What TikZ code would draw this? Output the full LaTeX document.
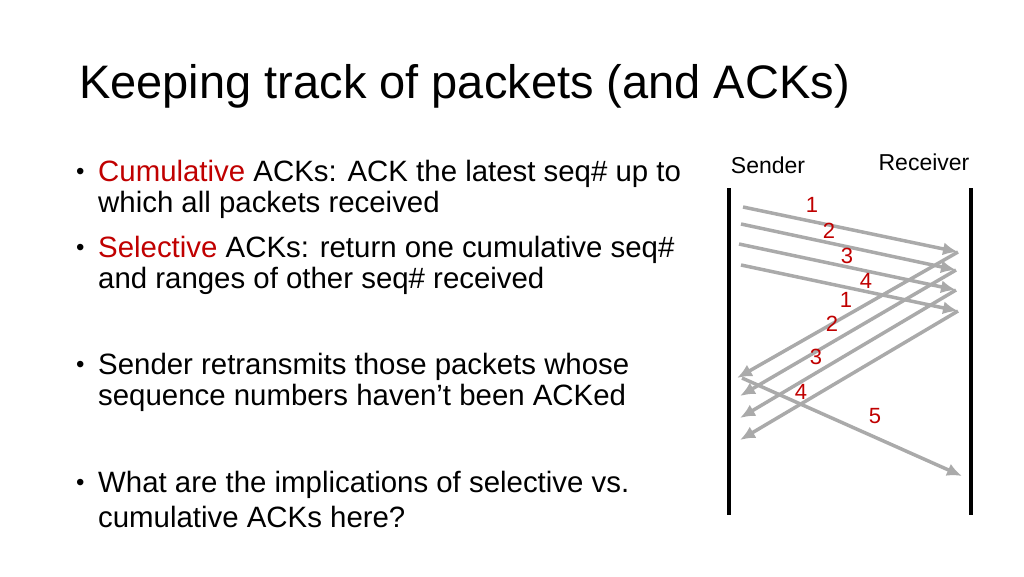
\documentclass[tikz,border=0pt]{standalone}
\usepackage{fontspec}
\setmainfont{Liberation Sans}
\usetikzlibrary{arrows.meta}
\definecolor{rd}{RGB}{192,0,0}
\definecolor{ar}{RGB}{170,170,170}
\begin{document}
\begin{tikzpicture}[x=1pt,y=-1pt,
  txt/.style={anchor=west,inner sep=0pt,font=\fontsize{29.4}{34}\selectfont},
  bul/.style={anchor=west,inner sep=0pt,font=\fontsize{24}{30}\selectfont},
  lbl/.style={inner sep=0pt,text=rd,font=\fontsize{22}{26}\selectfont},
  msg/.style={draw=ar,line width=3.5pt,-{Latex[length=15pt,width=13pt]}}]
\useasboundingbox (0,0) rectangle (1024,576);
\node[txt,font=\fontsize{47}{54}\selectfont] (title) at (79,86) {Keeping track of packets (and ACKs)};
\node[bul] (d1) at (76,174) {•};
\node[txt] (b1) at (98,174) {\textcolor{rd}{Cumulative} ACKs: ACK the latest seq\# up to};
\node[txt] (b1b) at (98,205) {which all packets received};
\node[bul] (d2) at (76,250) {•};
\node[txt] (b2) at (98,250) {\textcolor{rd}{Selective} ACKs: return one cumulative seq\#};
\node[txt] (b2b) at (98,281) {and ranges of other seq\# received};
\node[bul] (d3) at (76,367) {•};
\node[txt] (b3) at (98,367) {Sender retransmits those packets whose};
\node[txt] (b3b) at (98,398) {sequence numbers haven’t been ACKed};
\node[bul] (d4) at (76,485) {•};
\node[txt] (b4) at (98,485) {What are the implications of selective vs.};
\node[txt] (b4b) at (98,517) {cumulative ACKs here?};
\node[inner sep=0pt,font=\fontsize{23}{27}\selectfont] (snd) at (768,165) {Sender};
\node[inner sep=0pt,font=\fontsize{23}{27}\selectfont] (rcv) at (924,162) {Receiver};
\coordinate (s0) at (729,188); \coordinate (s1) at (729,515);
\coordinate (r0) at (971,188); \coordinate (r1) at (971,515);
\draw[line width=4pt] (s0) -- (s1);
\draw[line width=4pt] (r0) -- (r1);
\coordinate (d1a) at (743,207); \coordinate (d1b) at (958,252);
\coordinate (d2a) at (741,224); \coordinate (d2b) at (956,270);
\coordinate (d3a) at (739,244); \coordinate (d3b) at (956,290);
\coordinate (d4a) at (741,265); \coordinate (d4b) at (958,311);
\coordinate (a1) at (737,378); \coordinate (a2) at (740,396);
\coordinate (a3) at (740,418); \coordinate (a4) at (740,440);
\coordinate (p5a) at (742,378); \coordinate (p5b) at (962,476);
\draw[msg] (d1a) -- (d1b);
\draw[msg] (d2a) -- (d2b);
\draw[msg] (d3a) -- (d3b);
\draw[msg] (d4a) -- (d4b);
\draw[msg] (d1b) -- (a1);
\draw[msg] (d2b) -- (a2);
\draw[msg] (d3b) -- (a3);
\draw[msg] (d4b) -- (a4);
\draw[msg] (p5a) -- (p5b);
\node[lbl] (l1) at (812,205) {1};
\node[lbl] (l2) at (829,231) {2};
\node[lbl] (l3) at (847,256) {3};
\node[lbl] (l4) at (866,281) {4};
\node[lbl] (k1) at (846,300) {1};
\node[lbl] (k2) at (832,324) {2};
\node[lbl] (k3) at (816,357) {3};
\node[lbl] (k4) at (801,392) {4};
\node[lbl] (k5) at (875,416) {5};
\end{tikzpicture}
\end{document}
